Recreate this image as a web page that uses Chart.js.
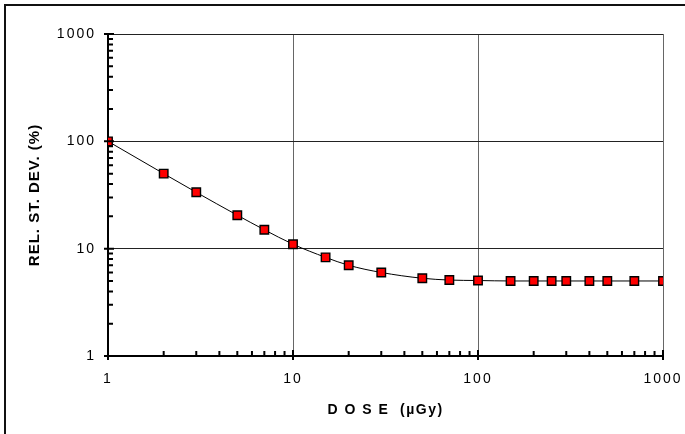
<!DOCTYPE html>
<html>
<head>
<meta charset="utf-8">
<script src="https://cdn.jsdelivr.net/npm/chart.js@4/dist/chart.umd.min.js"></script>
<style>
	html, body { margin: 0; padding: 0; background: #fff; }
	#wrap { width: 685px; height: 434px; }
</style>
</head>
<body>
<div id="wrap"><canvas id="dose"></canvas></div>
<script>
const doses = [1, 2, 3, 5, 7, 10, 15, 20, 30, 50, 70, 100, 150, 200, 250, 300, 400, 500, 700, 1000];
const relStdDev = [100, 50, 33.5, 20.5, 15, 11, 8.3, 7, 6, 5.3, 5.1, 5.05, 5, 5, 5, 5, 5, 5, 5, 5];
const xTicks = [1, 10, 100, 1000];
const yTicks = [1, 10, 100, 1000];

const FONT = "'Liberation Sans', Arial, sans-serif";

// spaced digits on the tick labels; axis titles get their own spacing
const titleSpacing = { x: "1.5px", y: "1px" };
const spacing = {
	id: "spacing",
	beforeUpdate(chart) { chart.ctx.letterSpacing = "2px"; },
	beforeDraw(chart) {
		chart.ctx.letterSpacing = "2px";
		Object.values(chart.scales).forEach((s) => {
			if (s._spacedTitle) return;
			const draw = s.drawTitle.bind(s);
			s.drawTitle = function () {
				const prev = this.ctx.letterSpacing;
				this.ctx.letterSpacing = titleSpacing[this.id] || "0px";
				draw();
				this.ctx.letterSpacing = prev;
			};
			s._spacedTitle = true;
		});
	},
};

// outer frame (top and left edges) plus the log tick marks on both axes
const marks = {
	id: "marks",
	beforeDraw(chart) {
		const c = chart.ctx;
		c.save();
		c.strokeStyle = "#111";
		c.lineWidth = 2;
		c.beginPath();
		c.moveTo(5, chart.height);
		c.lineTo(5, 5);
		c.lineTo(chart.width, 5);
		c.stroke();
		c.restore();
	},
	afterDraw(chart) {
		const c = chart.ctx;
		const { x, y } = chart.scales;
		const area = chart.chartArea;
		c.save();
		c.strokeStyle = "#000";
		c.lineWidth = 2;
		c.beginPath();
		for (let d = 1; d < 1000; d *= 10) {
			for (let m = 2; m <= 9; m++) {
				const px = x.getPixelForValue(d * m);
				c.moveTo(px, area.bottom);
				c.lineTo(px, area.bottom - 5);
				const py = y.getPixelForValue(d * m);
				c.moveTo(area.left, py);
				c.lineTo(area.left + 5, py);
			}
		}
		xTicks.forEach((v) => {
			const px = x.getPixelForValue(v);
			c.moveTo(px, area.bottom + 4);
			c.lineTo(px, area.bottom - 6);
		});
		yTicks.forEach((v) => {
			const py = y.getPixelForValue(v);
			c.moveTo(area.left - 4, py);
			c.lineTo(area.left + 6, py);
		});
		c.stroke();
		c.restore();
	},
};

new Chart(document.getElementById("dose"), {
	type: "line",
	data: {
		datasets: [
			{
				data: doses.map((d, i) => ({ x: d, y: relStdDev[i] })),
				borderColor: "#000",
				borderWidth: 1,
				cubicInterpolationMode: "monotone",
				pointStyle: "rect",
				pointRadius: 6,
				pointHoverRadius: 6,
				pointBackgroundColor: "#ff0000",
				pointBorderColor: "#000",
				pointBorderWidth: 1.4,
			},
		],
	},
	options: {
		responsive: true,
		maintainAspectRatio: false,
		animation: false,
		layout: { padding: { left: 0, top: 34, right: 22, bottom: 0 } },
		plugins: { legend: { display: false }, tooltip: { enabled: false } },
		scales: {
			x: {
				type: "logarithmic",
				min: 1,
				max: 1000,
				afterBuildTicks: (s) => { s.ticks = xTicks.map((v) => ({ value: v })); },
				afterFit: (s) => {
					s.height = 78;
					s.paddingLeft = 0;
					s.paddingRight = 0;
				},
				border: { color: "#000", width: 2 },
				grid: { color: "#666", lineWidth: 1, drawTicks: false },
				ticks: {
					color: "#000",
					padding: 15,
					maxRotation: 0,
					font: { family: FONT, size: 14 },
					callback: (v) => String(v),
				},
				title: {
					display: true,
					text: "D O S E  (µGy)",
					color: "#000",
					font: { family: FONT, size: 14, weight: "bold" },
					padding: { top: 0, bottom: 15 },
				},
			},
			y: {
				type: "logarithmic",
				min: 1,
				max: 1000,
				afterBuildTicks: (s) => { s.ticks = yTicks.map((v) => ({ value: v })); },
				afterFit: (s) => { s.width = 108; },
				border: { color: "#000", width: 2 },
				grid: { color: "#222", lineWidth: 1, drawTicks: false },
				ticks: {
					color: "#000",
					padding: 12,
					font: { family: FONT, size: 14 },
					callback: (v) => String(v),
				},
				title: {
					display: true,
					text: "REL. ST. DEV. (%)",
					color: "#000",
					font: { family: FONT, size: 15, weight: "bold" },
					padding: { top: 26, bottom: 0 },
				},
			},
		},
	},
	plugins: [spacing, marks],
});
</script>
</body>
</html>
